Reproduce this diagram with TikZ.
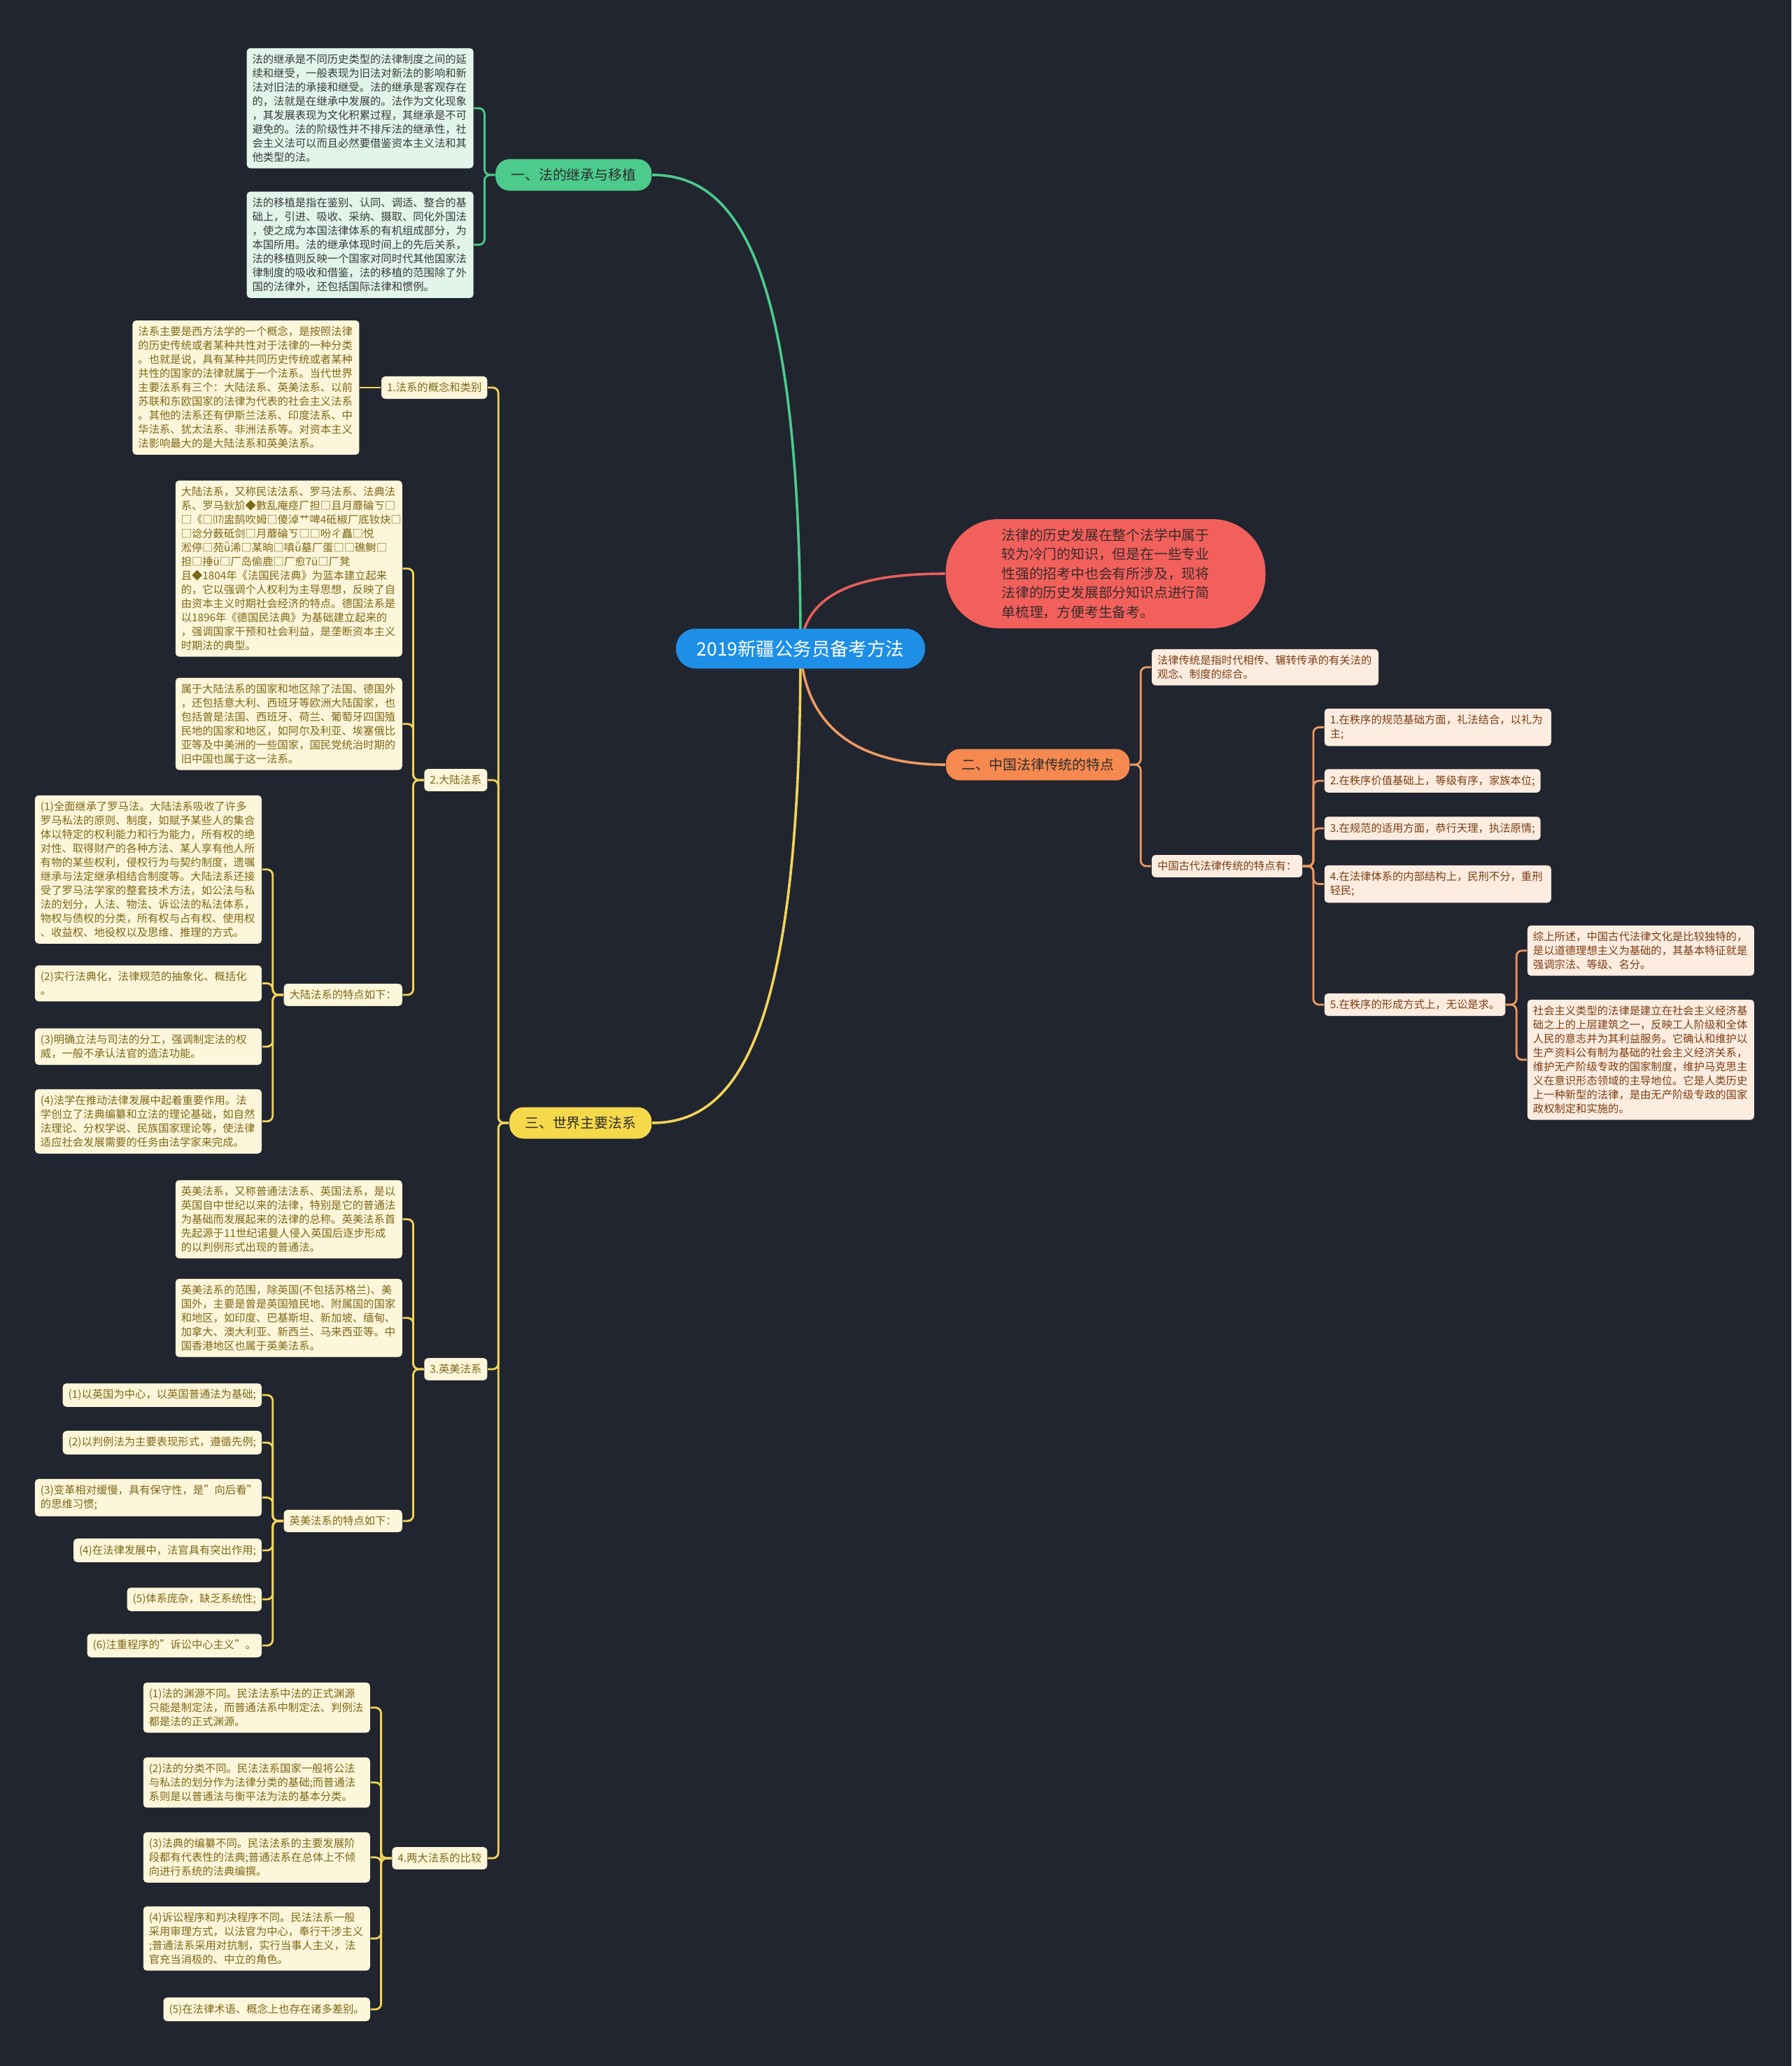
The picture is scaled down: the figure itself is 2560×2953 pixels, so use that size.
\documentclass[tikz,border=0pt]{standalone}
\usepackage{fontspec}
\setmainfont{Noto Sans CJK SC}
\usetikzlibrary{positioning, calc}
\definecolor{bgdark}{HTML}{21252F}
\definecolor{rootblue}{HTML}{1E8FE6}
\definecolor{introred}{HTML}{F2605C}
\definecolor{introtext}{HTML}{3A2A2A}
\definecolor{green1}{HTML}{4CCB8C}
\definecolor{orange1}{HTML}{F5894F}
\definecolor{yellow1}{HTML}{F6D84B}
\definecolor{redline}{HTML}{E8605C}
\definecolor{orangeline}{HTML}{EE9A62}
\definecolor{yellowline}{HTML}{F2D45A}
\definecolor{mintfill}{HTML}{E1F5EA}
\definecolor{minttext}{HTML}{3A3A3A}
\definecolor{creamfill}{HTML}{FDF6DA}
\definecolor{creamtext}{HTML}{7D6818}
\definecolor{peachfill}{HTML}{FDECE0}
\definecolor{peachtext}{HTML}{7A3F14}
\definecolor{pilltext}{HTML}{2E2E2E}

\pgfdeclarelayer{edges}
\pgfsetlayers{edges,main}

\tikzset{
  leaf/.style={rounded corners=1.3pt, inner xsep=2pt, inner ysep=2.2pt, align=left,
    font=\fontsize{3.83pt}{5pt}\selectfont},
  boxw/.style={text width=77pt},
  mint/.style={leaf, fill=mintfill, text=minttext},
  cream/.style={leaf, fill=creamfill, text=creamtext},
  peach/.style={leaf, fill=peachfill, text=peachtext},
  pill/.style={rounded corners=5pt, minimum height=10.25pt, inner xsep=5.6pt,
    text=pilltext, font=\fontsize{4.95pt}{6pt}\selectfont},
  grnlink/.style={draw=green1, line width=0.7pt, rounded corners=2pt},
  orglink/.style={draw=orangeline, line width=0.7pt, rounded corners=2pt},
  ylwlink/.style={draw=yellowline, line width=0.7pt, rounded corners=2pt},
  redlink/.style={draw=redline, line width=0.9pt},
}

\begin{document}
\begin{tikzpicture}[x=0.25pt, y=-0.25pt]
  \useasboundingbox (0,0) rectangle (2560,2953);

  \node[fill=rootblue, text=white, rounded corners=7pt, minimum width=89pt, minimum height=14.25pt,
    font=\fontsize{6.6pt}{8pt}\selectfont] (root) at (1144,927) {2019新疆公务员备考方法};
  \node[fill=introred, text=introtext, rounded corners=19pt, minimum width=114.25pt, minimum height=38.75pt,
    align=left, font=\fontsize{4.95pt}{6.9pt}\selectfont] (intro) at (1580,820) {法律的历史发展在整个法学中属于\\
    较为冷门的知识，但是在一些专业\\
    性强的招考中也会有所涉及，现将\\
    法律的历史发展部分知识点进行简\\
    单梳理，方便考生备考。};

  \node[pill, fill=green1, anchor=east] (br1) at (932,250) {一、法的继承与移植};
  \node[pill, fill=orange1, anchor=west] (br2) at (1351,1093) {二、中国法律传统的特点};
  \node[pill, fill=yellow1, anchor=east] (br3) at (932,1605) {三、世界主要法系};

  \path (br1.west) ++(-30,0) coordinate (x1);
  \path (br2.east) ++(30,0) coordinate (x2);
  \path (br3.west) ++(-30,0) coordinate (x3);

  \node[mint, boxw, anchor=north east] (a1) at (x1 |- 0,68) {法的继承是不同历史类型的法律制度之间的延\\
    续和继受，一般表现为旧法对新法的影响和新\\
    法对旧法的承接和继受。法的继承是客观存在\\
    的，法就是在继承中发展的。法作为文化现象\\
    ，其发展表现为文化积累过程，其继承是不可\\
    避免的。法的阶级性并不排斥法的继承性，社\\
    会主义法可以而且必然要借鉴资本主义法和其\\
    他类型的法。};
  \node[mint, boxw, anchor=north east] (a2) at (x1 |- 0,273) {法的移植是指在鉴别、认同、调适、整合的基\\
    础上，引进、吸收、采纳、摄取、同化外国法\\
    ，使之成为本国法律体系的有机组成部分，为\\
    本国所用。法的继承体现时间上的先后关系，\\
    法的移植则反映一个国家对同时代其他国家法\\
    律制度的吸收和借鉴，法的移植的范围除了外\\
    国的法律外，还包括国际法律和惯例。};

  \node[peach, boxw, anchor=north west] (t1) at (x2 |- 0,927) {法律传统是指时代相传、辗转传承的有关法的\\
    观念、制度的综合。};
  \node[peach, anchor=west] (t2) at (x2 |- 0,1238) {中国古代法律传统的特点有：};
  \path (t2.east) ++(30,0) coordinate (x21);
  \node[peach, boxw, anchor=north west] (c1) at (x21 |- 0,1012) {1.在秩序的规范基础方面，礼法结合，以礼为\\
    主;};
  \node[peach, anchor=west] (c2) at (x21 |- 0,1116) {2.在秩序价值基础上，等级有序，家族本位;};
  \node[peach, anchor=west] (c3) at (x21 |- 0,1184) {3.在规范的适用方面，恭行天理，执法原情;};
  \node[peach, boxw, anchor=north west] (c4) at (x21 |- 0,1236) {4.在法律体系的内部结构上，民刑不分，重刑\\
    轻民;};
  \node[peach, anchor=west] (c5) at (x21 |- 0,1436) {5.在秩序的形成方式上，无讼是求。};
  \path (c5.east) ++(30,0) coordinate (x25);
  \node[peach, boxw, anchor=north west] (d1) at (x25 |- 0,1322) {综上所述，中国古代法律文化是比较独特的，\\
    是以道德理想主义为基础的，其基本特征就是\\
    强调宗法、等级、名分。};
  \node[peach, boxw, anchor=north west] (d2) at (x25 |- 0,1428) {社会主义类型的法律是建立在社会主义经济基\\
    础之上的上层建筑之一，反映工人阶级和全体\\
    人民的意志并为其利益服务。它确认和维护以\\
    生产资料公有制为基础的社会主义经济关系，\\
    维护无产阶级专政的国家制度，维护马克思主\\
    义在意识形态领域的主导地位。它是人类历史\\
    上一种新型的法律，是由无产阶级专政的国家\\
    政权制定和实施的。};

  \node[cream, anchor=east] (e1) at (x3 |- 0,554) {1.法系的概念和类别};
  \node[cream, anchor=east] (e2) at (x3 |- 0,1115) {2.大陆法系};
  \node[cream, anchor=east] (e3) at (x3 |- 0,1957) {3.英美法系};
  \node[cream, anchor=east] (e4) at (x3 |- 0,2656) {4.两大法系的比较};

  \node[cream, boxw, anchor=east] (f1) at ($(e1.west)+(-30,0)$) {法系主要是西方法学的一个概念，是按照法律\\
    的历史传统或者某种共性对于法律的一种分类\\
    。也就是说，具有某种共同历史传统或者某种\\
    共性的国家的法律就属于一个法系。当代世界\\
    主要法系有三个：大陆法系、英美法系、以前\\
    苏联和东欧国家的法律为代表的社会主义法系\\
    。其他的法系还有伊斯兰法系、印度法系、中\\
    华法系、犹太法系、非洲法系等。对资本主义\\
    法影响最大的是大陆法系和英美法系。};

  \path (e2.west) ++(-30,0) coordinate (x22);
  \node[cream, boxw, anchor=north east] (g1) at (x22 |- 0,686) {大陆法系，又称民法法系、罗马法系、法典法\\
    系、罗马鈥斺◆數乱庵痉厂担□且月蘼碖ㄎ□\\
    □《□⒄盅鹄吹姆□傻淖艹啤4砥椒厂底钕炔□\\
    □谂分薮砥剑□月蘼碖ㄎ□□吩ㄔ矗□悦\\
    淞停□苑ǖ浠□某晌□嗔ǖ墓厂蛋□□礁鲥□\\
    担□捶ü□厂岛偷鹿□厂愈7ü□厂凳\\
    且◆1804年《法国民法典》为蓝本建立起来\\
    的，它以强调个人权利为主导思想，反映了自\\
    由资本主义时期社会经济的特点。德国法系是\\
    以1896年《德国民法典》为基础建立起来的\\
    ，强调国家干预和社会利益，是垄断资本主义\\
    时期法的典型。};
  \node[cream, boxw, anchor=north east] (g2) at (x22 |- 0,968) {属于大陆法系的国家和地区除了法国、德国外\\
    ，还包括意大利、西班牙等欧洲大陆国家，也\\
    包括曾是法国、西班牙、荷兰、葡萄牙四国殖\\
    民地的国家和地区，如阿尔及利亚、埃塞俄比\\
    亚等及中美洲的一些国家，国民党统治时期的\\
    旧中国也属于这一法系。};
  \node[cream, anchor=east] (g3) at (x22 |- 0,1422) {大陆法系的特点如下：};

  \path (g3.west) ++(-30,0) coordinate (x23);
  \node[cream, boxw, anchor=north east] (h1) at (x23 |- 0,1136) {(1)全面继承了罗马法。大陆法系吸收了许多\\
    罗马私法的原则、制度，如赋予某些人的集合\\
    体以特定的权利能力和行为能力，所有权的绝\\
    对性、取得财产的各种方法、某人享有他人所\\
    有物的某些权利，侵权行为与契约制度，遗嘱\\
    继承与法定继承相结合制度等。大陆法系还接\\
    受了罗马法学家的整套技术方法，如公法与私\\
    法的划分，人法、物法、诉讼法的私法体系，\\
    物权与债权的分类，所有权与占有权、使用权\\
    、收益权、地役权以及思维、推理的方式。};
  \node[cream, boxw, anchor=north east] (h2) at (x23 |- 0,1379) {(2)实行法典化，法律规范的抽象化、概括化\\
    。};
  \node[cream, boxw, anchor=north east] (h3) at (x23 |- 0,1469) {(3)明确立法与司法的分工，强调制定法的权\\
    威，一般不承认法官的造法功能。};
  \node[cream, boxw, anchor=north east] (h4) at (x23 |- 0,1556) {(4)法学在推动法律发展中起着重要作用。法\\
    学创立了法典编纂和立法的理论基础，如自然\\
    法理论、分权学说、民族国家理论等，使法律\\
    适应社会发展需要的任务由法学家来完成。};

  \path (e3.west) ++(-30,0) coordinate (x32);
  \node[cream, boxw, anchor=north east] (i1) at (x32 |- 0,1686) {英美法系，又称普通法法系、英国法系，是以\\
    英国自中世纪以来的法律，特别是它的普通法\\
    为基础而发展起来的法律的总称。英美法系首\\
    先起源于11世纪诺曼人侵入英国后逐步形成\\
    的以判例形式出现的普通法。};
  \node[cream, boxw, anchor=north east] (i2) at (x32 |- 0,1827) {英美法系的范围，除英国(不包括苏格兰)、美\\
    国外，主要是曾是英国殖民地、附属国的国家\\
    和地区，如印度、巴基斯坦、新加坡、缅甸、\\
    加拿大、澳大利亚、新西兰、马来西亚等。中\\
    国香港地区也属于英美法系。};
  \node[cream, anchor=east] (i3) at (x32 |- 0,2174) {英美法系的特点如下：};

  \path (i3.west) ++(-30,0) coordinate (x33);
  \node[cream, anchor=east] (j1) at (x33 |- 0,1994) {(1)以英国为中心，以英国普通法为基础;};
  \node[cream, anchor=east] (j2) at (x33 |- 0,2062) {(2)以判例法为主要表现形式，遵循先例;};
  \node[cream, boxw, anchor=north east] (j3) at (x33 |- 0,2113) {(3)变革相对缓慢，具有保守性，是"向后看"\\
    的思维习惯;};
  \node[cream, anchor=east] (j4) at (x33 |- 0,2216) {(4)在法律发展中，法官具有突出作用;};
  \node[cream, anchor=east] (j5) at (x33 |- 0,2286) {(5)体系庞杂，缺乏系统性;};
  \node[cream, anchor=east] (j6) at (x33 |- 0,2352) {(6)注重程序的"诉讼中心主义"。};

  \path (e4.west) ++(-30,0) coordinate (x4);
  \node[cream, boxw, anchor=north east] (k1) at (x4 |- 0,2404) {(1)法的渊源不同。民法法系中法的正式渊源\\
    只能是制定法，而普通法系中制定法、判例法\\
    都是法的正式渊源。};
  \node[cream, boxw, anchor=north east] (k2) at (x4 |- 0,2511) {(2)法的分类不同。民法法系国家一般将公法\\
    与私法的划分作为法律分类的基础;而普通法\\
    系则是以普通法与衡平法为法的基本分类。};
  \node[cream, boxw, anchor=north east] (k3) at (x4 |- 0,2618) {(3)法典的编纂不同。民法法系的主要发展阶\\
    段都有代表性的法典;普通法系在总体上不倾\\
    向进行系统的法典编撰。};
  \node[cream, boxw, anchor=north east] (k4) at (x4 |- 0,2724) {(4)诉讼程序和判决程序不同。民法法系一般\\
    采用审理方式，以法官为中心，奉行干涉主义\\
    ;普通法系采用对抗制，实行当事人主义，法\\
    官充当消极的、中立的角色。};
  \node[cream, anchor=east] (k5) at (x4 |- 0,2872) {(5)在法律术语、概念上也存在诸多差别。};

  \begin{pgfonlayer}{edges}
    \fill[bgdark] (0,0) rectangle (2560,2953);
    \draw[grnlink, line width=0.9pt] (root.center) .. controls (1144,380) and (1055,250) .. (br1.east);
    \draw[ylwlink, line width=0.9pt] (root.center) .. controls (1144,1475) and (1055,1605) .. (br3.east);
    \draw[redlink] (root.center) .. controls (1150,845) and (1230,820) .. (intro.west);
    \draw[orglink, line width=0.9pt] (root.center) .. controls (1150,1050) and (1240,1093) .. (br2.west);

    \foreach \c in {a1,a2} \draw[grnlink] (br1.west) -- ++(-15,0) |- (\c.east);
    \foreach \c in {t1,t2} \draw[orglink] (br2.east) -- ++(15,0) |- (\c.west);
    \foreach \c in {c1,c2,c3,c4,c5} \draw[orglink] (t2.east) -- ++(15,0) |- (\c.west);
    \foreach \c in {d1,d2} \draw[orglink] (c5.east) -- ++(15,0) |- (\c.west);

    \foreach \c in {e1,e2,e3,e4} \draw[ylwlink] (br3.west) -- ++(-15,0) |- (\c.east);
    \draw[ylwlink] (e1.west) -- (f1.east);
    \foreach \c in {g1,g2,g3} \draw[ylwlink] (e2.west) -- ++(-15,0) |- (\c.east);
    \foreach \c in {h1,h2,h3,h4} \draw[ylwlink] (g3.west) -- ++(-15,0) |- (\c.east);
    \foreach \c in {i1,i2,i3} \draw[ylwlink] (e3.west) -- ++(-15,0) |- (\c.east);
    \foreach \c in {j1,j2,j3,j4,j5,j6} \draw[ylwlink] (i3.west) -- ++(-15,0) |- (\c.east);
    \foreach \c in {k1,k2,k3,k4,k5} \draw[ylwlink] (e4.west) -- ++(-15,0) |- (\c.east);
  \end{pgfonlayer}
\end{tikzpicture}
\end{document}
